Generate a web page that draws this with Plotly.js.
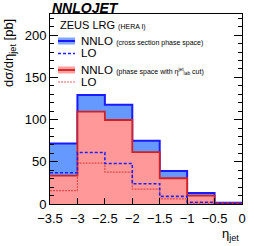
<!DOCTYPE html>
<html>
<head>
<meta charset="utf-8">
<script src="https://cdn.plot.ly/plotly-3.0.1.min.js"></script>
<style>html,body{margin:0;padding:0;background:#fff;}#plot{width:254px;height:246px;}</style>
</head>
<body>
<div id="plot"></div>
<script>
// Bin edges in eta_jet
const binEdges = [-3.5, -3, -2.5, -2, -1.5, -1, -0.5, 0];
// NNLO, cross section phase space
const nnloFull = [71.5, 129, 117.5, 75, 39, 13, 1.5];
// LO, cross section phase space
const loFull = [37, 61, 48, 24, 9, 2, 0.5];
// NNLO, phase space with eta_lab^jet cut
const nnloCut = [33.5, 109.5, 99.5, 61.5, 30.5, 10, 1];
// LO, phase space with eta_lab^jet cut
const loCut = [15.8, 48.3, 37.8, 17.5, 6, 1, 0.3];

const xTickVals = [-3.5, -3, -2.5, -2, -1.5, -1, -0.5, 0];

function stepY(vals) { return vals.concat([vals[vals.length - 1]]); }

const FONT = 'Liberation Sans, Arial, sans-serif';

const traces = [
  {x: binEdges, y: stepY(nnloFull), type: 'scatter', mode: 'lines', line: {shape: 'hv', color: '#1a1aff', width: 2},
   fill: 'tozeroy', fillcolor: '#6699ff', showlegend: false, hoverinfo: 'skip'},
  {x: binEdges, y: stepY(nnloCut), type: 'scatter', mode: 'lines', line: {shape: 'hv', color: '#d42020', width: 1.8},
   fill: 'tozeroy', fillcolor: '#ff9999', showlegend: false, hoverinfo: 'skip'},
  {x: binEdges, y: stepY(loCut), type: 'scatter', mode: 'lines', line: {shape: 'hv', color: 'rgba(215,50,50,0.75)', width: 1.2, dash: '2px,1px'},
   showlegend: false, hoverinfo: 'skip'},
  {x: binEdges, y: stepY(loFull), type: 'scatter', mode: 'lines', line: {shape: 'hv', color: '#2020ff', width: 1.6, dash: '3px,2px'},
   showlegend: false, hoverinfo: 'skip'}
];

function px2x(px) { return (px - 50) / 192; }
function py2y(py) { return (204 - py) / 190; }

const rows = [41, 53.5, 70, 82];
const sw0 = px2x(58), sw1 = px2x(75);

const shapes = [
  {type: 'rect', xref: 'paper', yref: 'paper', x0: sw0, x1: sw1, y0: py2y(rows[0] + 3.5), y1: py2y(rows[0] - 3.5), fillcolor: '#7fa6ff', line: {width: 0}},
  {type: 'line', xref: 'paper', yref: 'paper', x0: sw0, x1: sw1, y0: py2y(rows[0]), y1: py2y(rows[0]), line: {color: '#1a1aff', width: 2}},
  {type: 'line', xref: 'paper', yref: 'paper', x0: sw0, x1: sw1, y0: py2y(rows[1]), y1: py2y(rows[1]), line: {color: '#2020ff', width: 1.6, dash: '3px,2px'}},
  {type: 'rect', xref: 'paper', yref: 'paper', x0: sw0, x1: sw1, y0: py2y(rows[2] + 3.5), y1: py2y(rows[2] - 3.5), fillcolor: '#ffa0a0', line: {width: 0}},
  {type: 'line', xref: 'paper', yref: 'paper', x0: sw0, x1: sw1, y0: py2y(rows[2]), y1: py2y(rows[2]), line: {color: '#d42020', width: 1.8}},
  {type: 'line', xref: 'paper', yref: 'paper', x0: sw0, x1: sw1, y0: py2y(rows[3]), y1: py2y(rows[3]), line: {color: 'rgba(215,50,50,0.75)', width: 1.2, dash: '2px,1px'}}
];

const tx = px2x(79);
const annotations = [
  {text: '<b><i>NNLOJET</i></b>', xref: 'paper', yref: 'paper', x: 0, y: py2y(8), xanchor: 'left', yanchor: 'middle', showarrow: false, font: {family: FONT, size: 14, color: '#000'}},
  {text: "ZEUS LRG <span style='font-size:7px'>(HERA I)</span>", xref: 'paper', yref: 'paper', x: px2x(58), y: py2y(25), xanchor: 'left', yanchor: 'middle', showarrow: false, font: {family: FONT, size: 11, color: '#000'}},
  {text: "NNLO <span style='font-size:7px'>(cross section phase space)</span>", xref: 'paper', yref: 'paper', x: tx, y: py2y(rows[0]), xanchor: 'left', yanchor: 'middle', showarrow: false, font: {family: FONT, size: 11.5, color: '#000'}},
  {text: 'LO', xref: 'paper', yref: 'paper', x: tx, y: py2y(rows[1]), xanchor: 'left', yanchor: 'middle', showarrow: false, font: {family: FONT, size: 11.5, color: '#000'}},
  {text: "NNLO <span style='font-size:7px'>(phase space with η<sup>jet</sup><sub>lab</sub> cut)</span>", xref: 'paper', yref: 'paper', x: tx, y: py2y(rows[2]), xanchor: 'left', yanchor: 'middle', showarrow: false, font: {family: FONT, size: 11.5, color: '#000'}},
  {text: 'LO', xref: 'paper', yref: 'paper', x: tx, y: py2y(rows[3]), xanchor: 'left', yanchor: 'middle', showarrow: false, font: {family: FONT, size: 11.5, color: '#000'}},
  {text: 'dσ/dη<sub>jet</sub> [pb]', textangle: -90, xref: 'paper', yref: 'paper', x: px2x(9), y: py2y(17), xanchor: 'center', yanchor: 'top', showarrow: false, font: {family: FONT, size: 13, color: '#000'}},
  {text: 'η<sub>jet</sub>', xref: 'paper', yref: 'paper', x: px2x(241), y: py2y(234), xanchor: 'right', yanchor: 'middle', showarrow: false, font: {family: FONT, size: 13, color: '#000'}}
];

const layout = {
  width: 254, height: 246,
  margin: {l: 50, r: 12, t: 14, b: 42},
  paper_bgcolor: '#fff', plot_bgcolor: '#fff',
  font: {family: FONT, size: 13, color: '#000'},
  showlegend: false,
  xaxis: {range: [-3.5, 0], tickvals: xTickVals, ticks: 'inside', ticklen: 6, tickcolor: '#000', ticklabelstandoff: 2,
    showline: true, linecolor: '#000', linewidth: 1, mirror: true, showgrid: false, zeroline: false,
    tickfont: {family: FONT, size: 13, color: '#000'}, fixedrange: true},
  yaxis: {range: [0, 225], dtick: 50, tick0: 0, ticks: 'inside', ticklen: 8, tickcolor: '#000',
    minor: {dtick: 10, ticks: 'inside', ticklen: 4, tickcolor: '#000'},
    showline: true, linecolor: '#000', linewidth: 1, mirror: 'ticks', showgrid: false, zeroline: false,
    tickfont: {family: FONT, size: 13, color: '#000'}, fixedrange: true},
  shapes: shapes,
  annotations: annotations
};

Plotly.newPlot('plot', traces, layout, {displayModeBar: false, staticPlot: true});
</script>
</body>
</html>
